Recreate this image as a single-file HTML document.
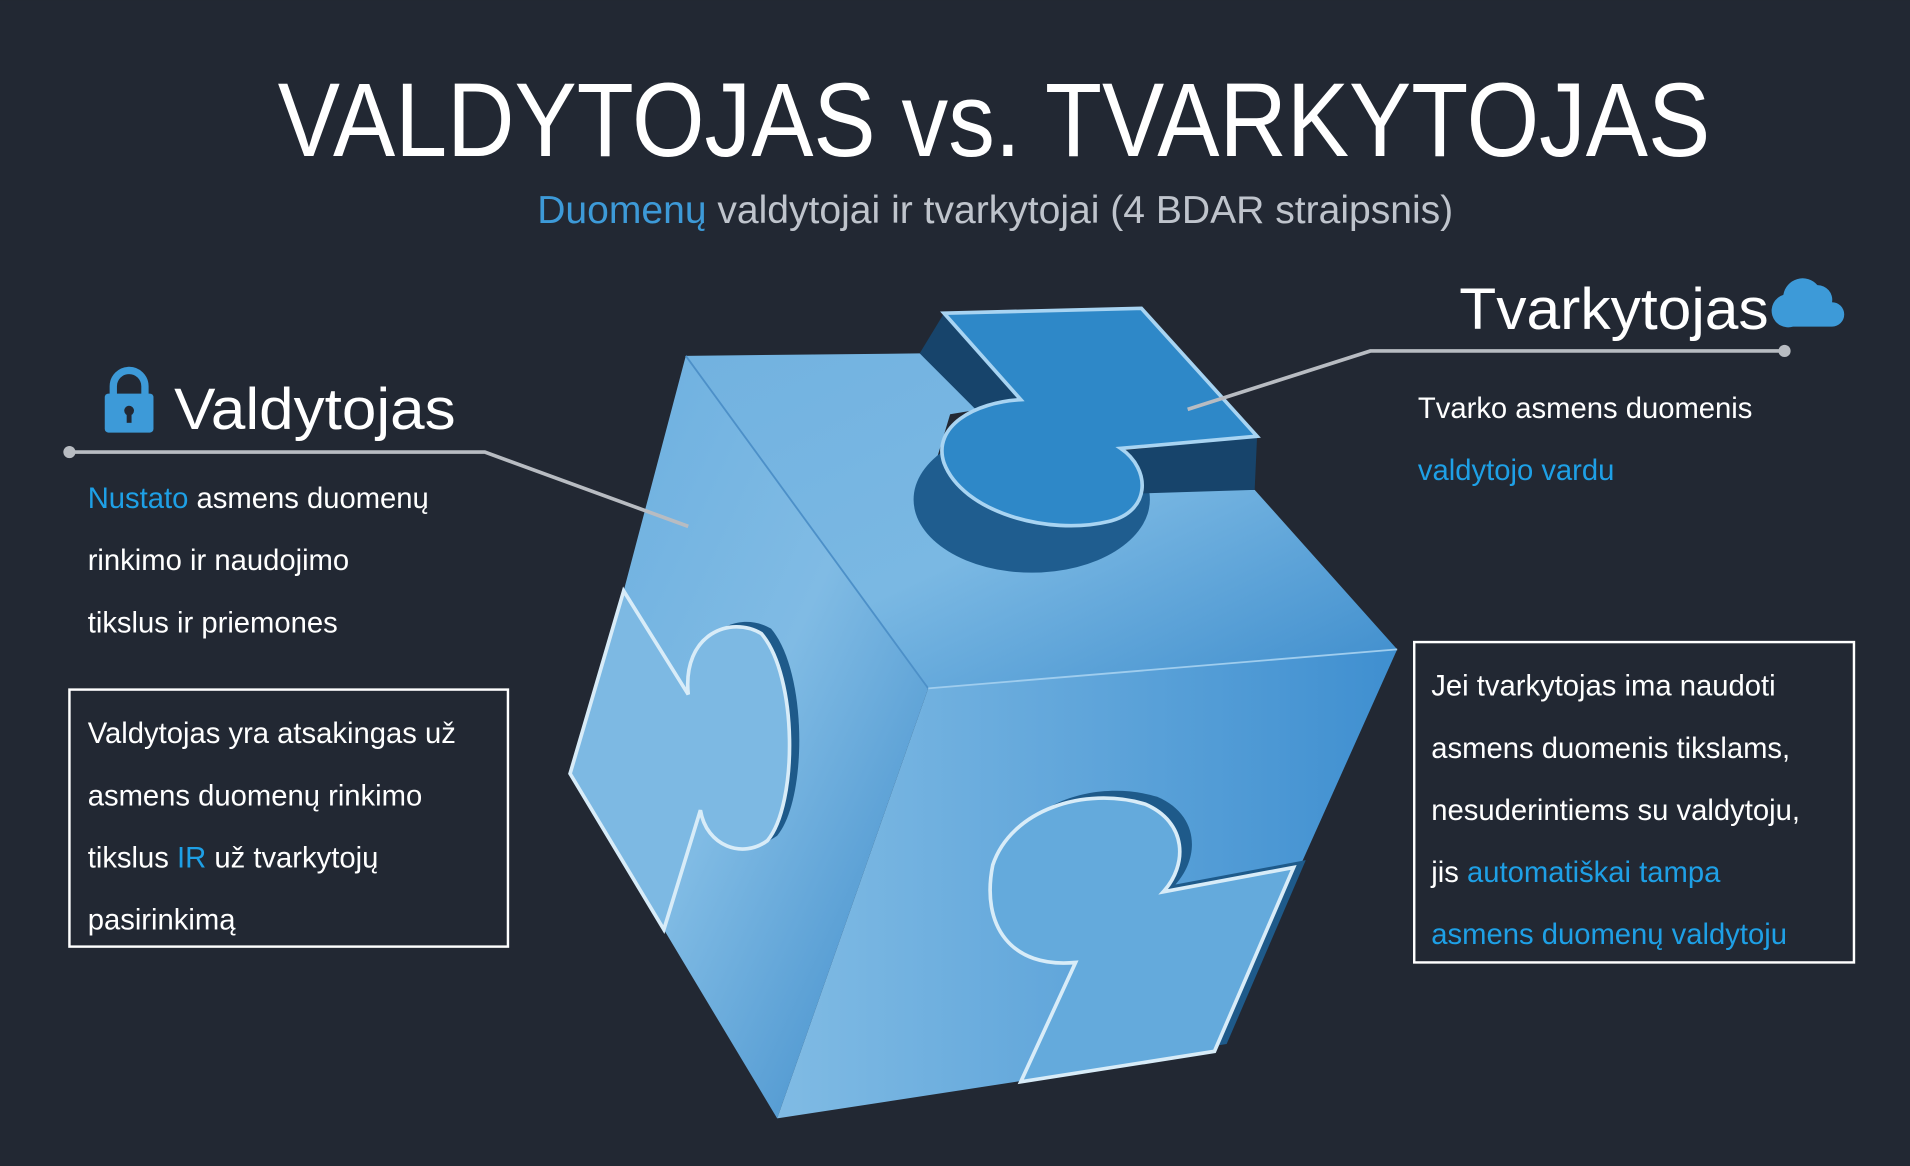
<!DOCTYPE html>
<html><head><meta charset="utf-8"><style>
html,body{margin:0;padding:0;background:#222833;}
svg{display:block}
text{font-family:"Liberation Sans",sans-serif;}
</style></head><body>
<svg width="1910" height="1166" viewBox="0 0 1568 957" xmlns="http://www.w3.org/2000/svg">
<defs>
<linearGradient id="gt" x1="0" y1="0" x2="1" y2="1"><stop offset="0" stop-color="#72b2e0"/><stop offset="0.5" stop-color="#7ab8e3"/><stop offset="1" stop-color="#3d8ccc"/></linearGradient>
<linearGradient id="gl" x1="0" y1="0" x2="1" y2="1"><stop offset="0" stop-color="#6aaedf"/><stop offset="0.5" stop-color="#80bbe4"/><stop offset="1" stop-color="#3a88c8"/></linearGradient>
<linearGradient id="gr" x1="0" y1="0" x2="1" y2="0"><stop offset="0" stop-color="#80bbe4"/><stop offset="1" stop-color="#3f8fd0"/></linearGradient>
</defs>
<rect width="1568" height="957" fill="#222833"/>
<text x="816" y="128" text-anchor="middle" font-size="86" fill="#fff" font-weight="300" textLength="1176" lengthAdjust="spacingAndGlyphs">VALDYTOJAS vs. TVARKYTOJAS</text>
<text x="817" y="183" text-anchor="middle" font-size="32" fill="#bfc4cc" textLength="752" lengthAdjust="spacingAndGlyphs"><tspan fill="#3d9ad8">Duomenų</tspan> valdytojai ir tvarkytojai (4 BDAR straipsnis)</text>

<!-- right face -->
<polygon points="762,565 1147,533 1070,705 997,863 638,918" fill="url(#gr)"/>
<path transform="translate(10,-6)" d="M955,732 L1062,712 L997,863 L838,888 L883,790 C830,795 805,760 815,710 C830,665 890,645 940,660 C975,675 975,710 955,732Z" fill="#1e5a8a"/>
<path d="M955,732 L1062,712 L997,863 L838,888 L883,790 C830,795 805,760 815,710 C830,665 890,645 940,660 C975,675 975,710 955,732Z" fill="#64aadc" stroke="#d8ecf8" stroke-width="3"/>
<!-- left face -->
<polygon points="563,292 762,565 638,918 545,763 468,635 512,485" fill="url(#gl)"/>
<path transform="translate(8,-4)" d="M565,570 C560,520 600,505 625,520 C655,555 655,660 630,690 C610,705 580,695 575,665Z" fill="#1e5a8a"/>
<path d="M512,485 L565,570 C560,520 600,505 625,520 C655,555 655,660 630,690 C610,705 580,695 575,665 L545,763 L468,635Z" fill="#7db9e3" stroke="#d8ecf8" stroke-width="3"/>
<!-- top face -->
<polygon points="563,292 755,290 840,330 780,340 765,390 820,430 900,432 935,410 930,402 1030,402 1147,533 762,565" fill="url(#gt)"/>
<line x1="563" y1="292" x2="762" y2="565" stroke="#4d90c8" stroke-width="1.5"/>
<line x1="762" y1="565" x2="1147" y2="533" stroke="#9fcdee" stroke-width="1.5"/>
<ellipse cx="847" cy="410" rx="97" ry="60" fill="#1f5d8f"/>
<polygon points="755,290 775,257 840,328 800,335" fill="#17446b"/>
<polygon points="920,370 1032,358 1030,402 935,405" fill="#17446b"/>
<path d="M775,257 L937,253 L1032,358 L920,368 C945,385 945,420 910,428 C860,440 790,420 775,380 C765,350 800,330 838,328Z" fill="#2e88c8" stroke="#a8d4f2" stroke-width="3"/>
<!-- connectors -->
<polyline points="57,371 398,371 565,432" fill="none" stroke="#b8bcc2" stroke-width="3"/>
<circle cx="57" cy="371" r="5" fill="#b8bcc2"/>
<polyline points="975,336 1125,288 1465,288" fill="none" stroke="#b8bcc2" stroke-width="3"/>
<circle cx="1465" cy="288" r="5" fill="#b8bcc2"/>
<!-- lock -->
<path d="M93,325 v-8 a13,13 0 0 1 26,0 v8" fill="none" stroke="#3d9ad8" stroke-width="6"/>
<rect x="86" y="323" width="40" height="32" rx="3" fill="#3d9ad8"/>
<circle cx="106" cy="337" r="4" fill="#222833"/><rect x="104" y="337" width="4" height="10" fill="#222833"/>
<text x="143" y="352" font-size="48" fill="#fff" textLength="231" lengthAdjust="spacingAndGlyphs">Valdytojas</text>
<!-- cloud -->
<path d="M1470,268 h32 a10,10 0 0 0 0,-20 a12,12 0 0 0 -12,-14 a16,16 0 0 0 -28,8 a10,10 0 0 0 8,26Z" fill="#3d9ad8" transform="translate(2,0)"/>
<text x="1452" y="270" text-anchor="end" font-size="48" fill="#fff" textLength="254" lengthAdjust="spacingAndGlyphs">Tvarkytojas</text>
<g font-size="24" fill="#fff">
<text x="72" y="417"><tspan fill="#1ea0e6">Nustato</tspan> asmens duomenų</text>
<text x="72" y="468">rinkimo ir naudojimo</text>
<text x="72" y="519">tikslus ir priemones</text>
<text x="1164" y="343">Tvarko asmens duomenis</text>
<text x="1164" y="394" fill="#1ea0e6">valdytojo vardu</text>
</g>
<rect x="57" y="566" width="360" height="211" fill="none" stroke="#fff" stroke-width="2"/>
<g font-size="24" fill="#fff">
<text x="72" y="610">Valdytojas yra atsakingas už</text>
<text x="72" y="661">asmens duomenų rinkimo</text>
<text x="72" y="712">tikslus <tspan fill="#1ea0e6">IR</tspan> už tvarkytojų</text>
<text x="72" y="763">pasirinkimą</text>
</g>
<rect x="1161" y="527" width="361" height="263" fill="none" stroke="#fff" stroke-width="2"/>
<g font-size="24" fill="#fff">
<text x="1175" y="571">Jei tvarkytojas ima naudoti</text>
<text x="1175" y="622">asmens duomenis tikslams,</text>
<text x="1175" y="673">nesuderintiems su valdytoju,</text>
<text x="1175" y="724">jis  <tspan fill="#1ea0e6">automatiškai tampa</tspan></text>
<text x="1175" y="775" fill="#1ea0e6">asmens duomenų valdytoju</text>
</g>
</svg>
</body></html>
